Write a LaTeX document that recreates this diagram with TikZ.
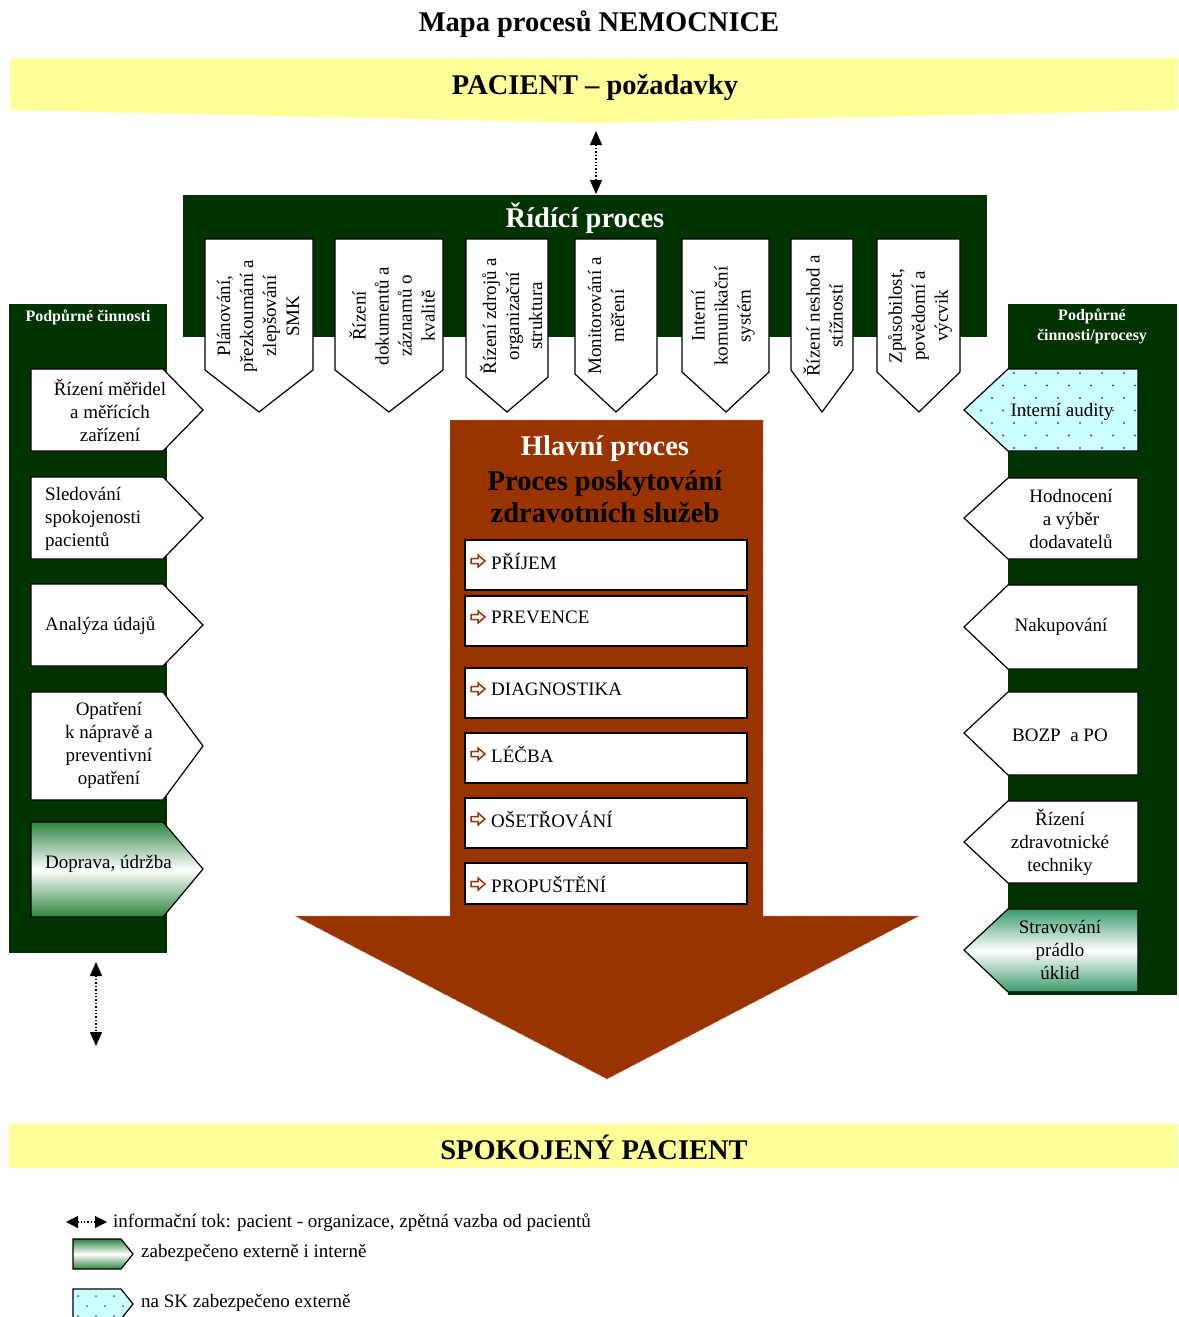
\documentclass[tikz,border=0pt]{standalone}
\usepackage{fontspec}
\setmainfont{Liberation Serif}
\usetikzlibrary{arrows.meta}

\definecolor{dkgreen}{HTML}{003300}
\definecolor{paleyellow}{HTML}{FFFF99}
\definecolor{brick}{HTML}{993300}
\definecolor{aqua}{HTML}{CCFFFF}
\definecolor{leafgreen}{HTML}{2E8540}
\definecolor{seagreen}{HTML}{3A9A6A}
\definecolor{dotgrey}{HTML}{4A5A5A}

\tikzset{
  wbox/.style={draw=black, fill=white, line width=1.2pt, line join=miter},
  txt/.style={font=\fontsize{19}{23}\selectfont, align=center, inner sep=0pt},
  ltxt/.style={font=\fontsize{19}{23}\selectfont, align=left, inner sep=0pt, anchor=west},
  bigtitle/.style={font=\fontsize{28.5}{33}\selectfont\bfseries, inner sep=0pt},
  coltitle/.style={font=\fontsize{16}{20}\selectfont\bfseries, text=white, align=center, inner sep=0pt},
  legtxt/.style={font=\fontsize{19}{23}\selectfont, anchor=west, inner sep=0pt},
  infoarrow/.style={dotted, line width=1.4pt,
    {Triangle[width=12pt,length=14pt]}-{Triangle[width=12pt,length=14pt]}},
  harrow/.pic={\draw[brick, line width=1.5pt, line join=miter, fill=white]
    (-7,-2.5) -- (0,-2.5) -- (0,-6) -- (7,0) -- (0,6) -- (0,2.5) -- (-7,2.5) -- cycle;},
  greenshade/.style={top color=#1, bottom color=#1, middle color=white}
}

\begin{document}
\begin{tikzpicture}[x=1pt,y=-1pt]
\useasboundingbox (0,0) rectangle (1178,1317);

% ---------- heading and patient banner ----------
\node[bigtitle] (heading) at (599,24) {Mapa procesů NEMOCNICE};
\fill[paleyellow] (10,58) -- (1178,58) -- (1178,110) -- (597,123) -- (10,110) -- cycle;
\node[bigtitle] (pacient) at (595,88) {PACIENT – požadavky};

% ---------- control process band ----------
\fill[dkgreen] (183,195) rectangle (987,337);
\node[bigtitle, text=white] (ridici) at (585,218) {Řídící proces};

\coordinate (pacTip) at (596,131);
\coordinate (bandTop) at (596,194);
\draw[infoarrow] (pacTip) -- (bandTop);

% downward pentagons: left, right, start of point
\draw[wbox] (205,239) -- (313,239) -- (313,370) -- (259,412) -- (205,370) -- cycle;
\draw[wbox] (335,239) -- (443,239) -- (443,370) -- (389,412) -- (335,370) -- cycle;
\draw[wbox] (466,239) -- (548,239) -- (548,377) -- (507,412) -- (466,377) -- cycle;
\draw[wbox] (575,239) -- (657,239) -- (657,374) -- (616,412) -- (575,374) -- cycle;
\draw[wbox] (682,239) -- (769,239) -- (769,372) -- (726,412) -- (682,372) -- cycle;
\draw[wbox] (791,239) -- (853,239) -- (853,370) -- (822,412) -- (791,370) -- cycle;
\draw[wbox] (877,239) -- (960,239) -- (960,372) -- (919,412) -- (877,372) -- cycle;

\node[txt, rotate=90] (c1) at (258,316) {Plánování,\\přezkoumání a\\zlepšování\\SMK};
\node[txt, rotate=90] (c2) at (392,316) {Řízení\\dokumentů a\\záznamů o\\kvalitě};
\node[txt, rotate=90] (c3) at (511,316) {Řízení zdrojů a\\organizační\\struktura};
\node[txt, rotate=90] (c4) at (606,316) {Monitorování a\\měření};
\node[txt, rotate=90] (c5) at (723,316) {Interní\\komunikační\\systém};
\node[txt, rotate=90] (c6) at (823,316) {Řízení neshod a\\stížností};
\node[txt, rotate=90] (c7) at (920,316) {Způsobilost,\\povědomí a\\výcvik};

% ---------- left support column ----------
\fill[dkgreen] (9,304) rectangle (167,953);
\node[coltitle] (ltitle) at (88,317) {Podpůrné činnosti};

\draw[wbox] (31,369) -- (163,369) -- (203,410) -- (163,451) -- (31,451) -- cycle;
\draw[wbox] (31,477) -- (163,477) -- (203,518) -- (163,559) -- (31,559) -- cycle;
\draw[wbox] (31,584) -- (163,584) -- (203,625) -- (163,666) -- (31,666) -- cycle;
\draw[wbox] (31,692) -- (163,692) -- (203,746) -- (163,800) -- (31,800) -- cycle;
\draw[wbox, greenshade=leafgreen] (31,822) -- (163,822) -- (203,869) -- (163,917) -- (31,917) -- cycle;

\node[txt] (l1) at (110,410) {Řízení měřidel\\a měřících\\zařízení};
\node[ltxt] (l2) at (45,519) {Sledování\\spokojenosti\\pacientů};
\node[ltxt] (l3) at (45,626) {Analýza údajů};
\node[txt] (l4) at (109,745) {Opatření\\k nápravě a\\preventivní\\opatření};
\node[ltxt] (l5) at (45,864) {Doprava, údržba};

\coordinate (leftFoot) at (96,962);
\coordinate (leftOut) at (96,1046);
\draw[infoarrow] (leftFoot) -- (leftOut);

% ---------- right support column ----------
\fill[dkgreen] (1008,304) rectangle (1177,995);
\node[coltitle] (rtitle) at (1092,326) {Podpůrné\\činnosti/procesy};

% external service: dotted aqua pentagon
\begin{scope}
  \clip (1138,369) -- (1008,369) -- (964,410) -- (1008,451) -- (1138,451) -- cycle;
  \fill[aqua] (960,365) rectangle (1140,455);
  \foreach \r in {0,...,6} {
    \pgfmathsetmacro{\yy}{373+12.5*\r}
    \pgfmathsetmacro{\xo}{mod(\r,2)*11}
    \foreach \c in {0,...,8} {
      \fill[dotgrey] ({970+\xo+22*\c},\yy) circle (1.1);
    }
  }
\end{scope}
\draw[wbox, fill=none] (1138,369) -- (1008,369) -- (964,410) -- (1008,451) -- (1138,451) -- cycle;

\draw[wbox] (1138,478) -- (1008,478) -- (964,518) -- (1008,559) -- (1138,559) -- cycle;
\draw[wbox] (1138,585) -- (1008,585) -- (964,627) -- (1008,669) -- (1138,669) -- cycle;
\draw[wbox] (1138,692) -- (1008,692) -- (964,733) -- (1008,775) -- (1138,775) -- cycle;
\draw[wbox] (1138,801) -- (1008,801) -- (964,842) -- (1008,883) -- (1138,883) -- cycle;
\draw[wbox, greenshade=seagreen] (1138,909) -- (1008,909) -- (964,950) -- (1008,992) -- (1138,992) -- cycle;

\node[txt] (r1) at (1062,412) {Interní audity};
\node[txt] (r2) at (1071,519) {Hodnocení\\a výběr\\dodavatelů};
\node[txt] (r3) at (1061,627) {Nakupování};
\node[txt] (r4) at (1060,735) {BOZP\ \ a PO};
\node[txt] (r5) at (1060,842) {Řízení\\zdravotnické\\techniky};
\node[txt] (r6) at (1060,950) {Stravování\\prádlo\\úklid};

% ---------- main process arrow ----------
\fill[brick] (450,420) -- (763,420) -- (763,916) -- (919,916) -- (607,1079) -- (295,916) -- (450,916) -- cycle;
\draw[brick!55!white, dotted, line width=0.9pt] (450,420) -- (763,420) -- (763,916) -- (919,916) -- (607,1079) -- (295,916) -- (450,916) -- cycle;

\node[bigtitle, text=white] (hlavni) at (605,449) {Hlavní proces};
\node[bigtitle, align=center, font=\fontsize{28.5}{32}\selectfont\bfseries] (poskyt) at (605,497) {Proces poskytování\\zdravotních služeb};

\foreach \t/\b/\nm/\lab in {540/590/s1/PŘÍJEM, 596/646/s2/PREVENCE, 668/718/s3/DIAGNOSTIKA,
                           733/783/s4/LÉČBA, 798/848/s5/OŠETŘOVÁNÍ, 863/904/s6/PROPUŠTĚNÍ} {
  \draw[draw=black, fill=white, line width=1.6pt] (465,\t) rectangle (747,\b);
  \pic at (478,\t+21) {harrow};
  \node[ltxt] (\nm) at (491,\t+21) {\lab};
}

% ---------- satisfied patient banner ----------
\fill[paleyellow] (9,1124) rectangle (1178,1168);
\node[bigtitle] (spokojeny) at (594,1147) {SPOKOJENÝ PACIENT};

% ---------- legend ----------
\coordinate (legA) at (66,1222);
\coordinate (legB) at (107,1222);
\draw[dotted, line width=1.2pt, {Triangle[width=12pt,length=12pt]}-{Triangle[width=12pt,length=12pt]}] (legA) -- (legB);
\node[legtxt] (leg1) at (113,1223)
  {informační tok: pacient - organizace, zpětná vazba od pacientů};

\draw[wbox, greenshade=leafgreen] (73,1239) -- (121,1239) -- (133,1254) -- (121,1269) -- (73,1269) -- cycle;
\node[legtxt] (leg2) at (141,1253) {zabezpečeno externě i interně};

\begin{scope}
  \clip (73,1289) -- (121,1289) -- (133,1304) -- (121,1319) -- (73,1319) -- cycle;
  \fill[aqua] (70,1285) rectangle (140,1320);
  \foreach \r in {0,...,2} {
    \pgfmathsetmacro{\yy}{1296+10*\r}
    \pgfmathsetmacro{\xo}{mod(\r,2)*9}
    \foreach \c in {0,...,3} {
      \fill[dotgrey] ({78+\xo+18*\c},\yy) circle (1);
    }
  }
\end{scope}
\draw[wbox, fill=none] (73,1319) -- (73,1289) -- (121,1289) -- (133,1304) -- (121,1319);
\node[legtxt] (leg3) at (141,1303) {na SK zabezpečeno externě};

\end{tikzpicture}
\end{document}
